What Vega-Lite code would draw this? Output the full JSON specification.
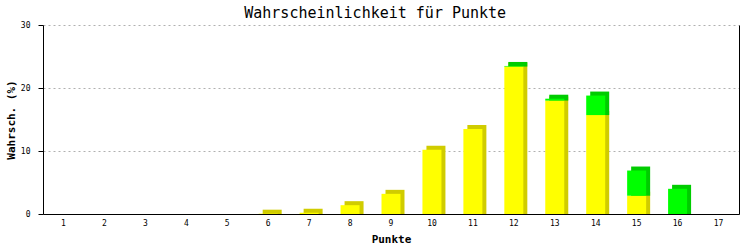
{
  "$schema": "https://vega.github.io/schema/vega-lite/v6.json",
  "width": 696,
  "height": 189,
  "autosize": {"type": "none"},
  "padding": {"left": 43, "top": 25, "right": 14, "bottom": 36},
  "background": "white",
  "title": {
    "text": "Wahrscheinlichkeit für Punkte",
    "font": "DejaVu Sans Mono",
    "fontSize": 15,
    "fontWeight": "normal",
    "color": "black",
    "anchor": "middle",
    "frame": "bounds",
    "offset": 0,
    "dx": 3
  },
  "config": {
    "view": {"stroke": null},
    "axis": {
      "labelFont": "DejaVu Sans Mono",
      "labelFontSize": 8,
      "labelColor": "black",
      "titleFont": "DejaVu Sans Mono",
      "titleFontSize": 11,
      "titleFontWeight": "bold",
      "titleColor": "black",
      "domainColor": "black",
      "tickColor": "black"
    }
  },
  "data": {
    "values": [
      {"Punkte": "6", "Serie": "A", "Wert": 0.05},
      {"Punkte": "7", "Serie": "A", "Wert": 0.2},
      {"Punkte": "8", "Serie": "A", "Wert": 1.4},
      {"Punkte": "9", "Serie": "A", "Wert": 3.2},
      {"Punkte": "10", "Serie": "A", "Wert": 10.2},
      {"Punkte": "11", "Serie": "A", "Wert": 13.5},
      {"Punkte": "12", "Serie": "A", "Wert": 23.4},
      {"Punkte": "12", "Serie": "B", "Wert": 0.1},
      {"Punkte": "13", "Serie": "A", "Wert": 18.0},
      {"Punkte": "13", "Serie": "B", "Wert": 0.3},
      {"Punkte": "14", "Serie": "A", "Wert": 15.7},
      {"Punkte": "14", "Serie": "B", "Wert": 3.1},
      {"Punkte": "15", "Serie": "A", "Wert": 2.9},
      {"Punkte": "15", "Serie": "B", "Wert": 4.0},
      {"Punkte": "16", "Serie": "B", "Wert": 4.0}
    ]
  },
  "transform": [
    {"stack": "Wert", "groupby": ["Punkte"], "sort": [{"field": "Serie", "order": "ascending"}], "as": ["Wert_lo", "Wert_hi"]}
  ],
  "encoding": {
    "x": {
      "field": "Punkte",
      "type": "ordinal",
      "sort": ["1","2","3","4","5","6","7","8","9","10","11","12","13","14","15","16","17"],
      "scale": {
        "domain": ["1","2","3","4","5","6","7","8","9","10","11","12","13","14","15","16","17"],
        "paddingInner": 0.536,
        "paddingOuter": 0.268
      },
      "axis": {
        "title": "Punkte",
        "labelAngle": 0,
        "ticks": false,
        "labelPadding": 5,
        "titlePadding": 6
      }
    }
  },
  "layer": [
    {
      "mark": {"type": "bar", "xOffset": 4, "x2Offset": 4, "yOffset": -4, "y2Offset": 0},
      "encoding": {
        "y": {
          "field": "Wert_hi",
          "type": "quantitative",
          "scale": {"domain": [0, 30], "nice": false},
          "axis": {
            "orient": "right",
            "labels": false,
            "ticks": false,
            "grid": false,
            "title": null
          }
        },
        "y2": {"field": "Wert_lo"},
        "color": {
          "field": "Serie",
          "type": "nominal",
          "scale": {"domain": ["A", "B"], "range": ["#D0CC00", "#00CC00"]},
          "legend": null
        }
      }
    },
    {
      "mark": {"type": "bar"},
      "encoding": {
        "y": {
          "field": "Wert_hi",
          "type": "quantitative",
          "scale": {"domain": [0, 30], "nice": false},
          "axis": {
            "orient": "left",
            "values": [0, 10, 20, 30],
            "title": "Wahrsch. (%)",
            "tickSize": 5,
            "labelPadding": 8,
            "titlePadding": 4,
            "grid": true,
            "gridColor": "#b0b0b0",
            "gridDash": [2, 3],
            "gridWidth": 1
          }
        },
        "y2": {"field": "Wert_lo"},
        "color": {
          "field": "Serie",
          "type": "nominal",
          "scale": {"domain": ["A", "B"], "range": ["#FFFF00", "#00FF00"]},
          "legend": null
        }
      }
    }
  ],
  "resolve": {"scale": {"y": "independent", "color": "independent"}, "axis": {"y": "independent"}}
}
